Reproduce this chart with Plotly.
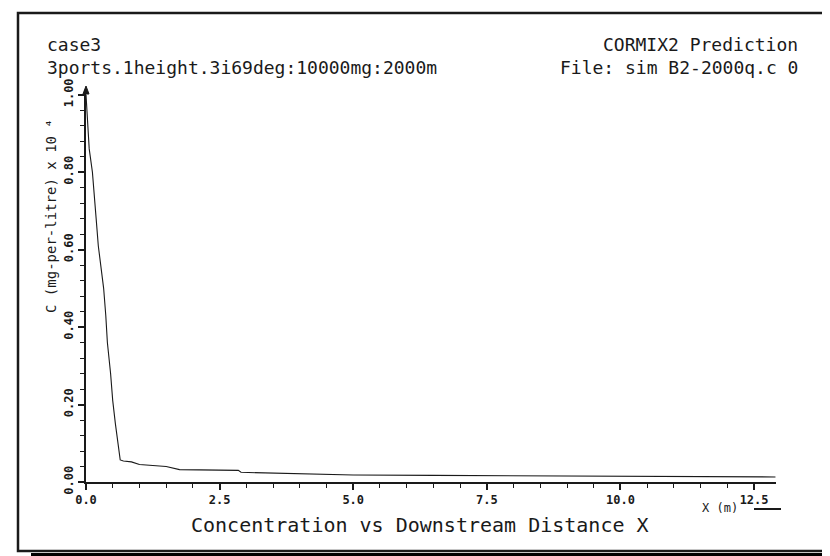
import plotly.graph_objects as go

# ---- data ----
x_dist = [0.0, 0.03, 0.06, 0.12, 0.16, 0.19, 0.23, 0.27, 0.33, 0.37, 0.40, 0.46, 0.50, 0.55,
          0.60, 0.64, 0.70, 0.85, 1.00, 1.50, 1.75, 2.85, 2.90, 3.50, 3.60, 5.00, 6.50,
          8.00, 10.0, 11.5, 12.9]
conc = [1.00, 0.93, 0.86, 0.80, 0.74, 0.68, 0.61, 0.56, 0.50, 0.43, 0.36, 0.28, 0.21, 0.15,
        0.09, 0.057, 0.054, 0.052, 0.045, 0.040, 0.032, 0.030, 0.025, 0.023, 0.021, 0.018,
        0.017, 0.016, 0.014, 0.014, 0.013]

x_ticks = [0.0, 2.5, 5.0, 7.5, 10.0, 12.5]
y_ticks = [0.0, 0.2, 0.4, 0.6, 0.8, 1.0]

title_left_1 = "case3"
title_left_2 = "3ports.1height.3i69deg:10000mg:2000m"
title_right_1 = "CORMIX2 Prediction"
title_right_2 = "File: sim B2-2000q.c 0"
x_title = "Concentration vs Downstream Distance X"
y_title = "C (mg-per-litre) x 10 \u2074"
x_unit = "X (m)"

# ---- layout geometry (pixels) ----
W, H = 830, 556
L, R, T, B = 78, 768, 82, 474
PW, PH = R - L, B - T


def px(v):
    return (v - L) / PW


def py(v):
    return (B - v) / PH


MONO = "DejaVu Sans Mono"
INK = "#1a1a1a"

fig = go.Figure()
fig.add_trace(go.Scatter(x=x_dist, y=conc, mode="lines",
                         line=dict(color=INK, width=1.1), showlegend=False,
                         hoverinfo="skip"))

fig.update_layout(
    width=W, height=H,
    margin=dict(l=L, r=W - R, t=T, b=H - B),
    paper_bgcolor="white", plot_bgcolor="white",
    font=dict(family=MONO, color=INK),
    xaxis=dict(range=[0, 12.91], tickvals=x_ticks, tickformat=".1f",
               showgrid=False, zeroline=False, showline=True, linecolor=INK, linewidth=2,
               ticks="outside", ticklen=6, tickwidth=1.5, tickcolor=INK,
               tickfont=dict(family=MONO, size=12, color=INK, weight="bold"),
               minor=dict(dtick=0.5, ticks="outside", ticklen=4, tickcolor=INK, tickwidth=1)),
    yaxis=dict(range=[0, 1.012], tickvals=y_ticks, tickformat=".2f", tickangle=-90,
               showgrid=False, zeroline=False, showline=True, linecolor=INK, linewidth=2,
               ticks="outside", ticklen=6, tickwidth=1.5, tickcolor=INK,
               tickfont=dict(family=MONO, size=12, color=INK, weight="bold"),
               minor=dict(dtick=0.04, ticks="outside", ticklen=4, tickcolor=INK, tickwidth=1)),
)

ann = []


def text(s, x, y, xanchor="left", size=18, angle=0):
    ann.append(dict(text=s, x=px(x), y=py(y), xref="paper", yref="paper",
                    xanchor=xanchor, yanchor="middle", showarrow=False,
                    textangle=angle, font=dict(family=MONO, size=size, color=INK)))


text(title_left_1, 37, 37)
text(title_left_2, 37, 59)
text(title_right_1, 792, 37, xanchor="right")
text(title_right_2, 792, 59, xanchor="right")
text(x_title, 412, 517, xanchor="center", size=20)
text(y_title, 43, 208, xanchor="center", size=14, angle=-90)
text(x_unit, 712, 500, xanchor="center", size=12)
fig.update_layout(annotations=ann)


def ppath(points):
    return "M " + " L ".join(f"{px(a):.5f},{py(b):.5f}" for a, b in points) + " Z"


shapes = [
    # frame
    dict(type="rect", xref="paper", yref="paper", x0=px(10), x1=px(820), y0=py(5), y1=py(543),
         line=dict(color=INK, width=2.5), fillcolor="rgba(0,0,0,0)", layer="below"),
    # shadow right
    dict(type="rect", xref="paper", yref="paper", x0=px(821), x1=px(831), y0=py(14), y1=py(557),
         line=dict(width=0), fillcolor="black"),
    # shadow bottom
    dict(type="rect", xref="paper", yref="paper", x0=px(23), x1=px(831), y0=py(545), y1=py(557),
         line=dict(width=0), fillcolor="black"),
    # line after X (m)
    dict(type="line", xref="paper", yref="paper", x0=px(746), x1=px(773), y0=py(501), y1=py(501),
         line=dict(color=INK, width=2)),
    # arrow head on top of the y axis
    dict(type="path", xref="paper", yref="paper",
         path=ppath([(78, 78), (75, 86), (81, 86)]),
         line=dict(color=INK, width=1), fillcolor=INK),
]
fig.update_layout(shapes=shapes)

fig.write_html("out.html")
